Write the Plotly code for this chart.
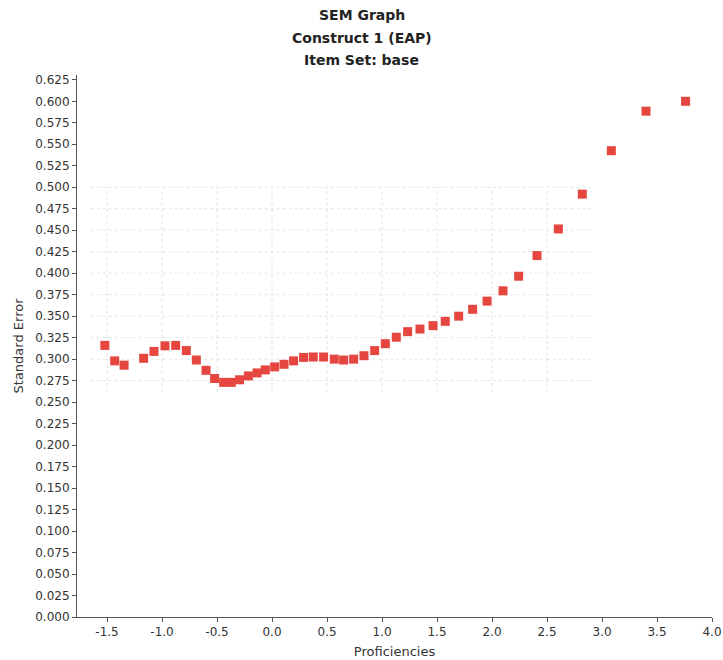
import plotly.graph_objects as go

# Standard error of measurement across the proficiency scale
proficiency = [
    -1.52, -1.43, -1.345, -1.167, -1.073, -0.973, -0.876, -0.779, -0.688, -0.600,
    -0.522, -0.44, -0.37, -0.295, -0.215, -0.136, -0.061, 0.024, 0.109, 0.196,
    0.287, 0.375, 0.469, 0.566, 0.651, 0.742, 0.836, 0.933, 1.03, 1.13,
    1.233, 1.345, 1.464, 1.575, 1.697, 1.824, 1.955, 2.1, 2.242, 2.409,
    2.603, 2.821, 3.085, 3.4, 3.76,
]
standard_error = [
    0.316, 0.298, 0.293, 0.301, 0.309, 0.3155, 0.316, 0.310, 0.299, 0.287,
    0.2775, 0.273, 0.273, 0.276, 0.2805, 0.284, 0.2875, 0.291, 0.294, 0.298,
    0.302, 0.3025, 0.3025, 0.300, 0.299, 0.300, 0.304, 0.310, 0.318, 0.3255,
    0.332, 0.335, 0.339, 0.344, 0.350, 0.358, 0.3675, 0.3795, 0.3965, 0.4205,
    0.4515, 0.492, 0.5425, 0.5885, 0.600,
]

title_lines = ["SEM Graph", "Construct 1 (EAP)", "Item Set: base"]
x_ticks = [-1.5, -1.0, -0.5, 0.0, 0.5, 1.0, 1.5, 2.0, 2.5, 3.0, 3.5, 4.0]
y_ticks = [i * 0.025 for i in range(26)]

MARKER_COLOR = "#e5463f"
AXIS_COLOR = "#555555"
GRID_COLOR = "#e3e3e3"
FONT = "DejaVu Sans"

fig = go.Figure()
fig.add_trace(go.Scatter(
    x=proficiency,
    y=standard_error,
    mode="markers",
    marker=dict(symbol="square", size=9, color=MARKER_COLOR, line=dict(width=0)),
    hoverinfo="x+y",
    showlegend=False,
))

# Faint dotted grid confined to the central band of the plot
grid_x = [-1.5, -1.0, -0.5, 0.0, 0.5, 1.0, 1.5, 2.0, 2.5]
grid_y = [0.275 + 0.025 * i for i in range(10)]
shapes = []
for gx in grid_x:
    shapes.append(dict(type="line", xref="x", yref="y", x0=gx, x1=gx, y0=0.262, y1=0.5,
                       line=dict(color=GRID_COLOR, width=1, dash="dot"), layer="below"))
for gy in grid_y:
    shapes.append(dict(type="line", xref="x", yref="y", x0=-1.65, x1=2.92, y0=gy, y1=gy,
                       line=dict(color=GRID_COLOR, width=1, dash="dot"), layer="below"))

annotations = []
for i, line in enumerate(title_lines):
    annotations.append(dict(
        text=f"<b>{line}</b>", xref="paper", yref="paper",
        x=(361.5 - 77) / (712 - 77), y=1 + (75 - (15 + 22.5 * i)) / (617 - 75),
        xanchor="center", yanchor="middle", showarrow=False,
        font=dict(family=FONT, size=14, color="#222222"),
    ))

fig.update_layout(
    width=723, height=660,
    margin=dict(l=77, r=11, t=75, b=43),
    paper_bgcolor="white", plot_bgcolor="white",
    font=dict(family=FONT, size=12, color="#333333"),
    shapes=shapes,
    annotations=annotations,
    xaxis=dict(
        range=[-1.773, 4.0], tickvals=x_ticks,
        ticktext=[f"{v:.1f}" for v in x_ticks],
        showgrid=False, zeroline=False, automargin=False,
        showline=True, linecolor=AXIS_COLOR, linewidth=1,
        ticks="outside", ticklen=4, tickcolor=AXIS_COLOR,
        title=dict(text="Proficiencies", font=dict(size=13), standoff=8),
    ),
    yaxis=dict(
        range=[0, 0.6306], tickvals=y_ticks,
        ticktext=[f"{v:.3f}" for v in y_ticks],
        showgrid=False, zeroline=False, automargin=False,
        showline=True, linecolor=AXIS_COLOR, linewidth=1,
        ticks="outside", ticklen=4, tickcolor=AXIS_COLOR,
        title=dict(text="Standard Error", font=dict(size=13), standoff=8),
    ),
)

fig.write_html("out.html")
